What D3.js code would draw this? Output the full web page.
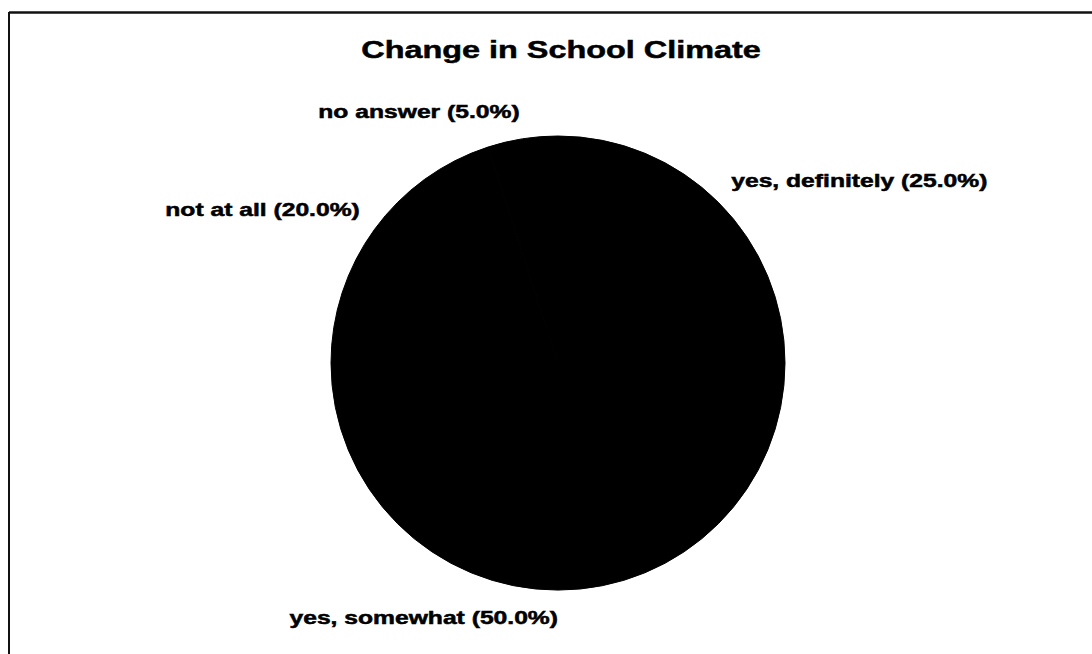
<!DOCTYPE html>
<html>
<head>
<meta charset="utf-8">
<script src="https://cdn.jsdelivr.net/npm/d3@7"></script>
<style>
  body { margin: 0; background: #fff; }
  text { font-family: "Liberation Sans", Arial, sans-serif; font-weight: bold; fill: #000;
         stroke: #000; stroke-width: 0.5px; }
</style>
</head>
<body>
<div id="chart"></div>
<script>
// chart data
var categories = ["yes, definitely", "yes, somewhat", "not at all", "no answer"];
var percents = [25.0, 50.0, 20.0, 5.0];
var title = "Change in School Climate";

var width = 1092, height = 654;
var cx = 558, cy = 363, radius = 227;
var stretch = 1.37;   // the scanned text is wide, so stretch it horizontally

var svg = d3.select("#chart").append("svg")
    .attr("width", width)
    .attr("height", height);

// frame (only top and left edges show in the scan)
svg.append("line")
    .attr("x1", 9).attr("y1", 12.5).attr("x2", width).attr("y2", 12.5)
    .attr("stroke", "#111").attr("stroke-width", 2.5);
svg.append("line")
    .attr("x1", 9).attr("y1", 12).attr("x2", 9).attr("y2", height)
    .attr("stroke", "#111").attr("stroke-width", 2);

// title
svg.append("text")
    .attr("transform", "translate(" + 561 + "," + 58 + ") scale(" + 1.35 + ",1)")
    .attr("text-anchor", "middle")
    .style("font-size", "24px")
    .text(title);

var data = categories.map(function(c, i) { return { name: c, value: percents[i] }; });

var pie = d3.pie()
    .value(d => d.value)
    .sort(null);

var arc = d3.arc()
    .innerRadius(0)
    .outerRadius(radius);

var labelR = radius + 18;

var g = svg.append("g")
    .attr("transform", "translate(" + cx + "," + cy + ")");

var arcs = pie(data);

g.selectAll("path")
    .data(arcs)
    .enter()
    .append("path")
    .attr("d", arc)
    .attr("fill", "#000")
    .attr("stroke", "#000")
    .attr("stroke-width", 1);

// labels sit just outside the slice, corner pinned to the mid-angle point
g.selectAll("text.lbl")
    .data(arcs)
    .enter()
    .append("text")
    .classed("lbl", true)
    .style("font-size", "18px")
    .attr("text-anchor", function(d) {
        var a = (d.startAngle + d.endAngle) / 2;
        return Math.sin(a) > 0.01 ? "start" : "end";
    })
    .attr("transform", function(d) {
        var a = (d.startAngle + d.endAngle) / 2;
        var x = Math.sin(a) * labelR;
        var y = -Math.cos(a) * labelR;
        // top half: text sits above the point, bottom half: below it
        y = Math.cos(a) > 0 ? y - 3 : y + 16;
        return "translate(" + x + "," + y + ") scale(" + stretch + ",1)";
    })
    .text(d => d.data.name + " (" + d.data.value.toFixed(1) + "%)");
</script>
</body>
</html>
